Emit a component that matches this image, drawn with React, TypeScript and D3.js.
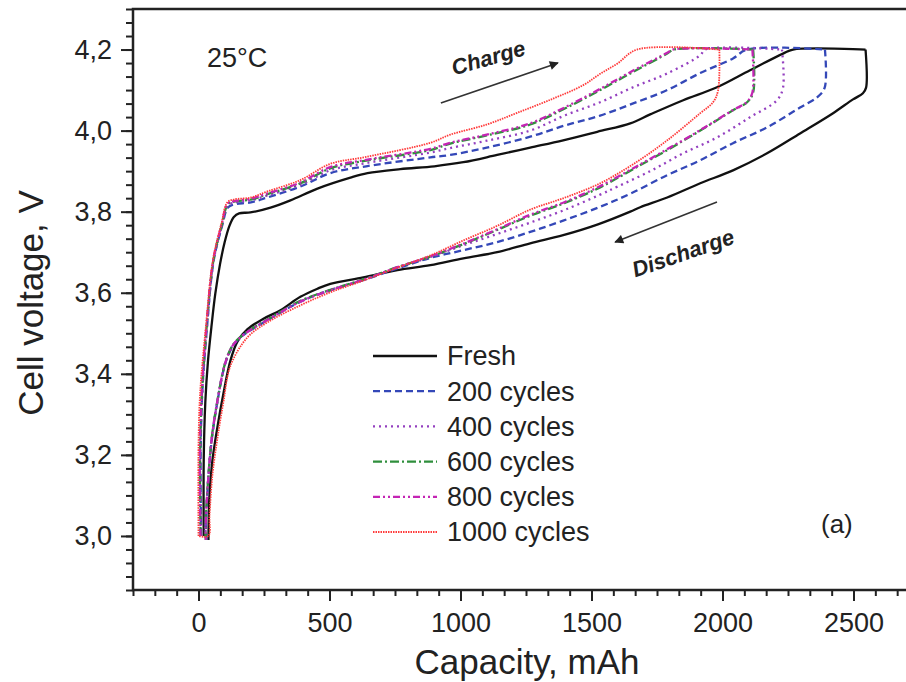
import React, { useEffect, useRef } from 'react';
import * as d3 from 'd3';

// capacity (mAh), voltage (V)
const freshCharge = [
  [20, 3.0], [20, 3.19], [26, 3.33], [36, 3.43], [50, 3.52], [64, 3.597], [82, 3.67], [100, 3.725],
  [118, 3.765], [135, 3.787], [155, 3.796], [198, 3.798], [275, 3.81], [351, 3.828], [454, 3.857],
  [580, 3.884], [645, 3.895], [770, 3.905], [900, 3.912], [1011, 3.922], [1140, 3.94], [1266, 3.958],
  [1392, 3.976], [1522, 3.997], [1648, 4.018], [1724, 4.04], [1850, 4.075], [1979, 4.107],
  [2105, 4.149], [2231, 4.19], [2269, 4.2], [2546, 4.2],
];
const freshDischarge = [
  [2546, 4.2], [2548, 4.106], [2536, 4.092], [2498, 4.077], [2422, 4.043], [2296, 3.993], [2170, 3.944],
  [2040, 3.902], [1915, 3.87], [1789, 3.835], [1686, 3.811], [1648, 3.8], [1522, 3.768], [1392, 3.742],
  [1266, 3.722], [1140, 3.7], [1011, 3.685], [885, 3.668], [759, 3.656], [629, 3.638], [503, 3.622],
  [454, 3.61], [389, 3.59], [313, 3.557], [248, 3.536], [187, 3.51], [149, 3.48], [122, 3.433],
  [95, 3.351], [72, 3.268], [53, 3.186], [42, 3.104], [38, 2.99],
];

const c200Charge = [
  [10, 3.0], [8, 3.19], [14, 3.35], [32, 3.512], [58, 3.68], [90, 3.765], [112, 3.81], [135, 3.818],
  [200, 3.823], [263, 3.835], [389, 3.862], [503, 3.895], [640, 3.912], [885, 3.934], [961, 3.94],
  [1100, 3.958], [1266, 3.985], [1400, 4.013], [1533, 4.037], [1659, 4.067], [1789, 4.1], [1915, 4.142],
  [2040, 4.178], [2094, 4.2], [2391, 4.2],
];
const c200Discharge = [
  [2391, 4.2], [2390, 4.106], [2361, 4.082], [2296, 4.057], [2170, 4.008], [2040, 3.969], [1915, 3.927],
  [1789, 3.89], [1650, 3.845], [1533, 3.812], [1392, 3.778], [1266, 3.75], [1140, 3.725], [1011, 3.705],
  [885, 3.686], [759, 3.66], [629, 3.631], [503, 3.606], [389, 3.578], [263, 3.532], [200, 3.508],
  [160, 3.49], [133, 3.47], [110, 3.44], [95, 3.408], [72, 3.33], [52, 3.245], [38, 3.146], [28, 3.02],
  [30, 2.99],
];

const c400Charge = [
  [10, 3.0], [7, 3.19], [14, 3.35], [32, 3.514], [58, 3.68], [90, 3.768], [112, 3.815], [135, 3.822],
  [200, 3.828], [263, 3.84], [389, 3.866], [503, 3.902], [640, 3.92], [885, 3.946], [961, 3.957],
  [1100, 3.975], [1266, 4.0], [1400, 4.038], [1533, 4.07], [1659, 4.107], [1789, 4.141], [1915, 4.186],
  [1934, 4.2], [2227, 4.2],
];
const c400Discharge = [
  [2227, 4.2], [2231, 4.106], [2208, 4.075], [2105, 4.033], [1979, 3.983], [1850, 3.944], [1724, 3.9],
  [1600, 3.862], [1533, 3.842], [1400, 3.805], [1266, 3.773], [1140, 3.745], [1011, 3.717], [885, 3.688],
  [759, 3.662], [629, 3.632], [503, 3.607], [389, 3.579], [263, 3.533], [200, 3.509], [160, 3.49],
  [133, 3.472], [110, 3.442], [95, 3.41], [72, 3.332], [52, 3.248], [38, 3.15], [27, 3.02], [28, 2.99],
];

const c600Charge = [
  [8, 3.0], [6, 3.19], [13, 3.35], [31, 3.515], [57, 3.68], [90, 3.77], [112, 3.818], [135, 3.825],
  [200, 3.83], [263, 3.843], [389, 3.87], [503, 3.907], [640, 3.926], [885, 3.952], [961, 3.968],
  [1100, 3.988], [1266, 4.015], [1400, 4.055], [1533, 4.1], [1659, 4.145], [1789, 4.19], [1815, 4.2],
  [2117, 4.2],
];
const c600Discharge = [
  [2117, 4.2], [2117, 4.094], [2094, 4.07], [2040, 4.05], [1915, 4.0], [1789, 3.952], [1659, 3.905],
  [1533, 3.86], [1400, 3.822], [1266, 3.79], [1140, 3.755], [1011, 3.72], [885, 3.689], [759, 3.663],
  [629, 3.633], [503, 3.607], [389, 3.58], [263, 3.534], [200, 3.51], [160, 3.491], [133, 3.473],
  [110, 3.443], [95, 3.41], [72, 3.333], [52, 3.25], [38, 3.15], [27, 3.02], [28, 2.99],
];

const c800Charge = [
  [8, 3.0], [5, 3.19], [12, 3.35], [30, 3.515], [56, 3.68], [89, 3.77], [111, 3.82], [135, 3.826],
  [200, 3.832], [263, 3.845], [389, 3.872], [503, 3.91], [640, 3.928], [885, 3.955], [961, 3.97],
  [1100, 3.99], [1266, 4.018], [1400, 4.058], [1533, 4.103], [1659, 4.148], [1789, 4.192], [1810, 4.2],
  [2114, 4.2],
];
const c800Discharge = [
  [2114, 4.2], [2114, 4.094], [2092, 4.07], [2038, 4.05], [1912, 4.0], [1786, 3.953], [1656, 3.906],
  [1530, 3.862], [1398, 3.824], [1264, 3.792], [1138, 3.756], [1010, 3.721], [885, 3.69], [759, 3.663],
  [629, 3.632], [503, 3.606], [389, 3.578], [263, 3.533], [200, 3.509], [160, 3.49], [133, 3.472],
  [110, 3.442], [95, 3.41], [72, 3.332], [52, 3.248], [38, 3.148], [27, 3.02], [28, 2.99],
];

const c1000Charge = [
  [0, 3.0], [0, 3.22], [6, 3.35], [28, 3.515], [55, 3.68], [88, 3.772], [110, 3.823], [135, 3.83],
  [200, 3.835], [263, 3.85], [389, 3.878], [503, 3.918], [640, 3.935], [885, 3.97], [961, 3.99],
  [1100, 4.015], [1217, 4.044], [1350, 4.078], [1468, 4.112], [1533, 4.14], [1598, 4.165], [1674, 4.2],
  [1988, 4.2],
];
const c1000Discharge = [
  [1988, 4.2], [1983, 4.099], [1964, 4.07], [1915, 4.043], [1789, 3.976], [1659, 3.917], [1533, 3.87],
  [1400, 3.835], [1266, 3.805], [1140, 3.765], [1011, 3.729], [885, 3.692], [759, 3.662], [629, 3.63],
  [503, 3.601], [389, 3.569], [263, 3.527], [187, 3.49], [122, 3.42], [95, 3.33], [72, 3.24],
  [53, 3.15], [42, 3.05], [38, 3.0], [0, 3.0],
];

const seriesNames = ['Fresh', '200 cycles', '400 cycles', '600 cycles', '800 cycles', '1000 cycles'];
const seriesColors = ['#111111', '#3448b8', '#9440c0', '#2f8f3c', '#c424b4', '#ff3a3a'];
const seriesDash = ['none', '7,4', '2,4', '9,3,2,3', '7,3,2,3,2,3', '1.5,1'];
const seriesWidth = [2.3, 2.3, 2.3, 2.3, 2.3, 1.8];
const seriesCharge = [freshCharge, c200Charge, c400Charge, c600Charge, c800Charge, c1000Charge];
const seriesDischarge = [freshDischarge, c200Discharge, c400Discharge, c600Discharge, c800Discharge, c1000Discharge];

const xMajorTicks = [0, 500, 1000, 1500, 2000, 2500];
const yMajorTicks = [3.0, 3.2, 3.4, 3.6, 3.8, 4.0, 4.2];

const xMin = -250, xMax = 2750;
const yMin = 3.0 - 4 * (0.2 / 6), yMax = 4.3;
const font = '"Liberation Sans", Arial, Helvetica, sans-serif';

export default function App() {
  const ref = useRef<SVGSVGElement>(null);

  useEffect(() => {
    const svg = d3.select(ref.current);
    svg.selectAll('*').remove();

    const x = d3.scaleLinear().domain([xMin, xMax]).range([133, 919]);
    const y = d3.scaleLinear().domain([yMin, yMax]).range([590, 9]);

    const defs = svg.append('defs');
    defs.append('clipPath').attr('id', 'plotclip')
      .append('rect').attr('x', 133).attr('y', 9).attr('width', 786).attr('height', 581);
    defs.append('marker').attr('id', 'head')
      .attr('viewBox', '0 0 10 10').attr('refX', 9).attr('refY', 5)
      .attr('markerWidth', 11).attr('markerHeight', 9).attr('markerUnits', 'userSpaceOnUse')
      .attr('orient', 'auto')
      .append('path').attr('d', 'M0,0 L10,5 L0,10 z').attr('fill', '#222');

    // minor ticks
    const xMinor = d3.range(xMin, xMax + 1, 500 / 6);
    const yMinor = d3.range(0, 44).map(i => yMin + i * (0.2 / 6));

    svg.append('g').attr('transform', 'translate(0,590)')
      .call(d3.axisBottom(x).tickValues(xMinor).tickSize(6).tickFormat(() => ''))
      .call(g => g.select('.domain').remove())
      .selectAll('line').attr('stroke', '#222').attr('stroke-width', 2);
    svg.append('g').attr('transform', 'translate(133,0)')
      .call(d3.axisLeft(y).tickValues(yMinor.filter(v => v <= yMax + 1e-6)).tickSize(7).tickFormat(() => ''))
      .call(g => g.select('.domain').remove())
      .selectAll('line').attr('stroke', '#222').attr('stroke-width', 2);

    // major ticks + labels
    const gx = svg.append('g').attr('transform', 'translate(0,590)')
      .call(d3.axisBottom(x).tickValues(xMajorTicks).tickSize(11).tickPadding(12).tickFormat(d3.format('d')));
    gx.select('.domain').remove();
    gx.selectAll('line').attr('stroke', '#222').attr('stroke-width', 2);
    gx.selectAll('text').attr('font-family', font).attr('font-size', 27).attr('fill', '#222');

    const gy = svg.append('g').attr('transform', 'translate(133,0)')
      .call(d3.axisLeft(y).tickValues(yMajorTicks).tickSize(12).tickPadding(9)
        .tickFormat(d => d3.format('.1f')(d as number).replace('.', ',')));
    gy.select('.domain').remove();
    gy.selectAll('line').attr('stroke', '#222').attr('stroke-width', 2);
    gy.selectAll('text').attr('font-family', font).attr('font-size', 27).attr('fill', '#222');

    // frame
    svg.append('rect').attr('x', 133).attr('y', 9).attr('width', 786).attr('height', 581)
      .attr('fill', 'none').attr('stroke', '#222').attr('stroke-width', 2.5);

    // curves
    const line = d3.line<number[]>()
      .x(d => x(d[0])).y(d => y(d[1]))
      .curve(d3.curveCatmullRom.alpha(0.5));
    const plot = svg.append('g').attr('clip-path', 'url(#plotclip)');
    seriesNames.forEach((name, i) => {
      [seriesCharge[i], seriesDischarge[i]].forEach(pts => {
        plot.append('path').attr('d', line(pts))
          .attr('fill', 'none').attr('stroke', seriesColors[i])
          .attr('stroke-width', seriesWidth[i])
          .attr('stroke-dasharray', seriesDash[i])
          .attr('stroke-linejoin', 'round');
      });
    });

    // legend
    const lg = svg.append('g');
    seriesNames.forEach((name, i) => {
      const ly = 356 + i * 35.2;
      lg.append('line').attr('x1', 373).attr('x2', 437).attr('y1', ly).attr('y2', ly)
        .attr('stroke', seriesColors[i]).attr('stroke-width', seriesWidth[i])
        .attr('stroke-dasharray', seriesDash[i]);
      lg.append('text').attr('x', 447).attr('y', ly).attr('dy', '0.35em')
        .attr('font-family', font).attr('font-size', 27).attr('fill', '#222').text(name);
    });

    // annotations
    svg.append('text').attr('x', 207).attr('y', 67).attr('font-family', font)
      .attr('font-size', 27).attr('fill', '#222').text('25°C');
    svg.append('text').attr('x', 821).attr('y', 533).attr('font-family', font)
      .attr('font-size', 26).attr('fill', '#222').text('(a)');

    svg.append('line')
      .attr('x1', x(925)).attr('y1', y(4.068)).attr('x2', x(1372)).attr('y2', y(4.167))
      .attr('stroke', '#333').attr('stroke-width', 1.6).attr('marker-end', 'url(#head)');
    svg.append('line')
      .attr('x1', x(1979)).attr('y1', y(3.824)).attr('x2', x(1590)).attr('y2', y(3.725))
      .attr('stroke', '#333').attr('stroke-width', 1.6).attr('marker-end', 'url(#head)');

    svg.append('text')
      .attr('transform', `translate(${x(1106)},${y(4.18)}) rotate(-16)`)
      .attr('text-anchor', 'middle').attr('dy', '0.35em')
      .attr('font-family', font).attr('font-size', 22).attr('font-weight', 'bold')
      .attr('font-style', 'italic').attr('fill', '#222').text('Charge');
    svg.append('text')
      .attr('transform', `translate(${x(1849)},${y(3.698)}) rotate(-19)`)
      .attr('text-anchor', 'middle').attr('dy', '0.35em')
      .attr('font-family', font).attr('font-size', 22).attr('font-weight', 'bold')
      .attr('font-style', 'italic').attr('fill', '#222').text('Discharge');

    // axis titles
    svg.append('text').attr('x', 527).attr('y', 674).attr('text-anchor', 'middle')
      .attr('font-family', font).attr('font-size', 35).attr('fill', '#222').text('Capacity, mAh');
    svg.append('text').attr('transform', 'translate(43,303) rotate(-90)').attr('text-anchor', 'middle')
      .attr('font-family', font).attr('font-size', 35).attr('fill', '#222').text('Cell voltage, V');
  }, []);

  return (
    <svg ref={ref} width={906} height={682}
      style={{ position: 'absolute', left: 0, top: 0, background: '#fff', overflow: 'hidden' }} />
  );
}
